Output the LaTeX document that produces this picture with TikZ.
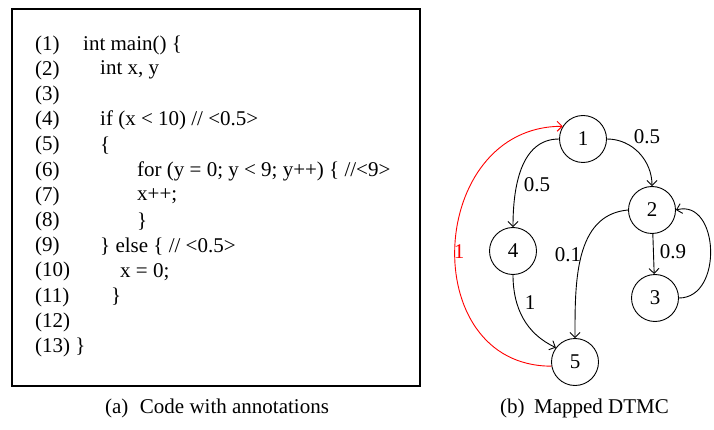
\documentclass[tikz,border=0pt]{standalone}
\usepackage{fontspec}
\setmainfont{Liberation Serif}
\usetikzlibrary{arrows.meta}
\begin{document}
\begin{tikzpicture}[x=1pt,y=-1pt,
  every node/.style={font=\fontsize{21}{25}\selectfont},
  codeline/.style={anchor=west,inner sep=0pt},
  state/.style={draw,circle,minimum size=47pt,inner sep=0pt,line width=0.9pt},
  edge/.style={-{Straight Barb[length=5pt,width=10pt,line width=0.9pt]},line width=0.9pt},
  lbl/.style={inner sep=0pt}]
\useasboundingbox (0,0) rectangle (714,430);
\node[draw,line width=1.6pt,minimum width=408pt,minimum height=377pt,inner sep=0pt] (box) at (216,197.5) {};
% line numbers
\foreach \i/\t in {1/(1),2/(2),3/(3),4/(4),5/(5),6/(6),7/(7),8/(8),9/(9),10/(10),11/(11),12/(12)}
  \node[codeline] (n\i) at (35,{45+(\i-1)*25.2}) {\t};
\node[codeline] (n13) at (35,{45+12*25.2}) {(13) \}};
% code
\node[codeline] (c1) at (83,45) {int main() \{};
\node[codeline] (c2) at (100,70.2) {int x, y};
\node[codeline] (c4) at (100,120.6) {if (x < 10) // <0.5>};
\node[codeline] (c5) at (100,145.8) {\{};
\node[codeline] (c6) at (137,171) {for (y = 0; y < 9; y++) \{ //<9>};
\node[codeline] (c7) at (137,196.2) {x++;};
\node[codeline] (c8) at (137,221.4) {\}};
\node[codeline] (c9) at (100,246.6) {\} else \{ // <0.5>};
\node[codeline] (c10) at (120,271.8) {x = 0;};
\node[codeline] (c11) at (111,297) {\}};
% captions
\node (capa) at (217,408) {(a)\hspace{0.55em}Code with annotations};
\node (capb) at (584.5,408) {(b)\hspace{0.45em}Mapped DTMC};
% DTMC
\node[state] (s1) at (583,139) {1};
\node[state] (s2) at (652,210) {2};
\node[state] (s3) at (655,298) {3};
\node[state] (s4) at (513,251) {4};
\node[state] (s5) at (575,362) {5};
\draw[edge] (s1.east) to[out=0,in=90] (s2.north);
\draw[edge] (s1.west) to[out=180,in=90] (s4.north);
\draw[edge] (s2.west) to[out=185,in=90] (s5.north);
\draw[edge] (s2) -- (s3);
\draw[edge] (s3.east) to[out=0,in=15,looseness=1.3] (s2.east);
\draw[edge] (s4.south) to[out=-90,in=155] (s5.143);
\draw[edge,red] (s5.190) to[out=180,in=180,looseness=1.45] (s1.148);
\node[lbl] (l12) at (647,137) {0.5};
\node[lbl] (l14) at (537,185) {0.5};
\node[lbl] (l25) at (568,255) {0.1};
\node[lbl] (l23) at (673,252) {0.9};
\node[lbl] (l45) at (530,303) {1};
\node[lbl,text=red] (l51) at (459,252) {1};
\end{tikzpicture}
\end{document}
